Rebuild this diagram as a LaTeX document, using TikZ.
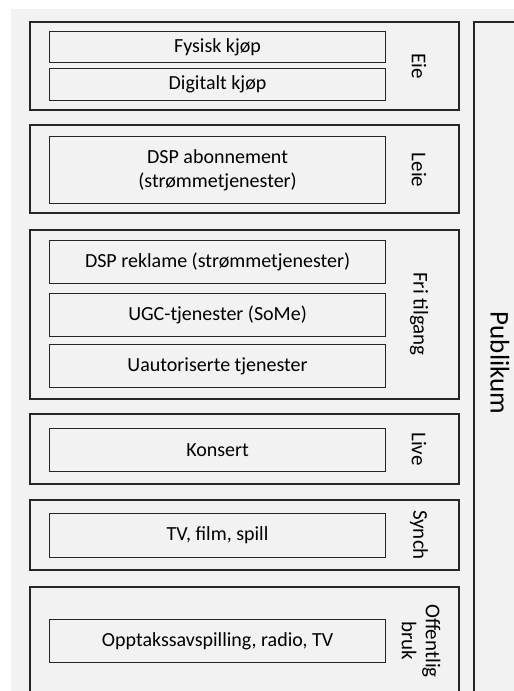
\documentclass[tikz,border=0pt]{standalone}
\usepackage{fontspec}
\setmainfont{Carlito}
\begin{document}
\begin{tikzpicture}[x=1pt,y=-1pt,
  frame/.style={draw=black!85, line width=1.1pt},
  groupbox/.style={frame},
  itembox/.style={frame, anchor=north west, inner sep=0pt, align=center,
    font=\fontsize{20}{24}\selectfont},
  sidelabel/.style={rotate=-90, align=center, inner sep=0pt,
    font=\fontsize{21}{22}\selectfont}]
  \useasboundingbox (0,0) rectangle (514,691);
  % background panel
  \fill[gray!10] (11,9) rectangle (514,691);

  % group frames
  \draw[groupbox] (30,22) rectangle (459,110);
  \draw[groupbox] (30,125) rectangle (459,213);
  \draw[groupbox] (30,230) rectangle (459,399);
  \draw[groupbox] (30,414) rectangle (459,484);
  \draw[groupbox] (30,500) rectangle (459,570);
  \draw[groupbox] (459,691) -- (459,587) -- (30,587) -- (30,691);

  % audience column
  \draw[frame] (474,691) -- (474,22) -- (514,22);
  \node[sidelabel, font=\fontsize{27}{29}\selectfont] (publikum) at (500,363) {Publikum};

  % items
  \node[itembox, minimum width=336pt, minimum height=31pt] (fysisk) at (49,31) {Fysisk kjøp};
  \node[itembox, minimum width=336pt, minimum height=32pt] (digitalt) at (49,68) {Digitalt kjøp};
  \node[itembox, minimum width=336pt, minimum height=67pt] (abo) at (49,136) {DSP abonnement\\(strømmetjenester)};
  \node[itembox, minimum width=336pt, minimum height=43pt] (reklame) at (49,240) {DSP reklame (strømmetjenester)};
  \node[itembox, minimum width=336pt, minimum height=43pt] (ugc) at (49,293) {UGC-tjenester (SoMe)};
  \node[itembox, minimum width=336pt, minimum height=43pt] (uaut) at (49,344) {Uautoriserte tjenester};
  \node[itembox, minimum width=336pt, minimum height=43pt] (konsert) at (49,428) {Konsert};
  \node[itembox, minimum width=336pt, minimum height=44pt] (tv) at (49,513) {TV, film, spill};
  \node[itembox, minimum width=336pt, minimum height=43pt] (offentlig) at (49,619) {Opptakssavspilling, radio, TV};

  % group labels
  \node[sidelabel] (eie) at (419,66) {Eie};
  \node[sidelabel] (leie) at (419,170) {Leie};
  \node[sidelabel] (fri) at (419,314) {Fri tilgang};
  \node[sidelabel] (live) at (419,449) {Live};
  \node[sidelabel] (synch) at (419,535) {Synch};
  \node[sidelabel, font=\fontsize{21}{24}\selectfont] (offbruk) at (421,641) {Offentlig\\bruk};
\end{tikzpicture}
\end{document}
